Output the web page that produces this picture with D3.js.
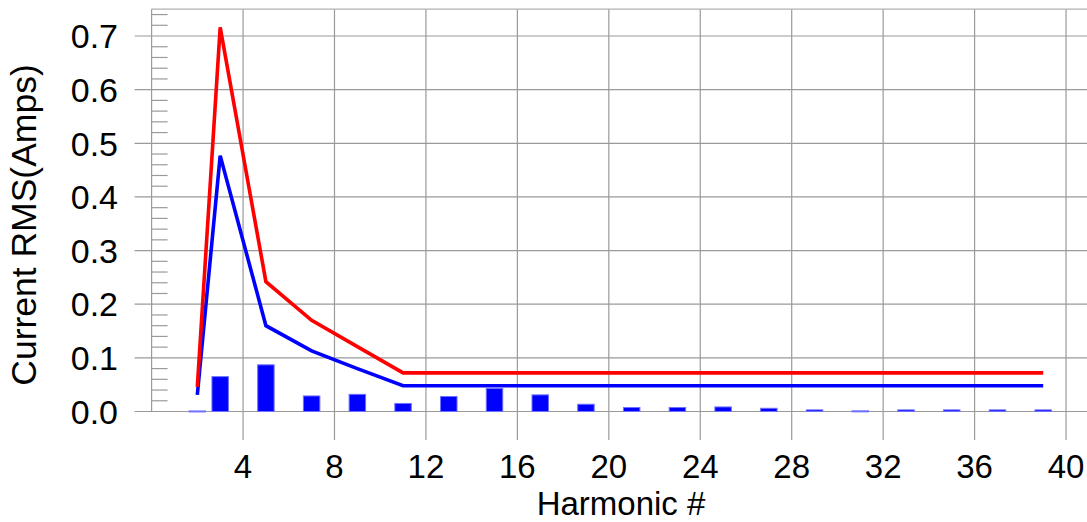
<!DOCTYPE html>
<html>
<head>
<meta charset="utf-8">
<script src="https://cdn.jsdelivr.net/npm/d3@7"></script>
<style>
  body { margin: 0; background: #fff; }
  text { font-family: "Liberation Sans", Arial, sans-serif; fill: #000; }
</style>
</head>
<body>
<div id="container"></div>
<script>
// harmonic numbers shown
const harmonics = [2, 3, 5, 7, 9, 11, 13, 15, 17, 19, 21, 23, 25, 27, 29, 31, 33, 35, 37, 39];
// measured current (bars)
const measured = [0.001, 0.065, 0.087, 0.029, 0.032, 0.015, 0.028, 0.043, 0.031, 0.0135,
  0.0075, 0.0075, 0.0085, 0.006, 0.003, 0.0012, 0.003, 0.003, 0.003, 0.003];
// red limit line
const limitRed = [0.046, 0.716, 0.242, 0.170, 0.121, 0.072, 0.072, 0.072, 0.072, 0.072,
  0.072, 0.072, 0.072, 0.072, 0.072, 0.072, 0.072, 0.072, 0.072, 0.072];
// blue limit line
const limitBlue = [0.031, 0.477, 0.160, 0.113, 0.080, 0.048, 0.048, 0.048, 0.048, 0.048,
  0.048, 0.048, 0.048, 0.048, 0.048, 0.048, 0.048, 0.048, 0.048, 0.048];
const xTicks = [4, 8, 12, 16, 20, 24, 28, 32, 36, 40];
const yTicks = [0, 0.1, 0.2, 0.3, 0.4, 0.5, 0.6, 0.7];

const w = 1087;
const h = 522;

const x = d3.scaleLinear().domain([0, 41]).range([151.6, 1088.9]);
const y = d3.scaleLinear().domain([0, 0.75]).range([411.5, 9.2]);
const plotBottom = 440;

const svg = d3.select("#container")
  .append("svg")
  .attr("width", w)
  .attr("height", h);

const grid = svg.append("g").attr("stroke", "#9a9a9a").attr("stroke-width", 1.2);

// vertical grid lines
grid.selectAll(".vg")
  .data(xTicks)
  .enter()
  .append("line")
  .attr("x1", d => x(d)).attr("x2", d => x(d))
  .attr("y1", y(0.75)).attr("y2", plotBottom);

// horizontal grid lines (with outward major ticks)
grid.selectAll(".hg")
  .data(yTicks)
  .enter()
  .append("line")
  .attr("x1", x(0) - 17).attr("x2", w)
  .attr("y1", d => y(d)).attr("y2", d => y(d));

// top border
grid.append("line")
  .attr("x1", x(0)).attr("x2", w)
  .attr("y1", y(0.75)).attr("y2", y(0.75))
  .attr("stroke", "#b0b0b0");

// left spine
grid.append("line")
  .attr("x1", x(0)).attr("x2", x(0))
  .attr("y1", y(0.75)).attr("y2", y(0));

// minor ticks inside, every 0.02
const minor = d3.range(0, 0.751, 0.02).filter(v => Math.abs(v * 10 - Math.round(v * 10)) > 1e-6);
grid.selectAll(".mt")
  .data(minor)
  .enter()
  .append("line")
  .attr("x1", x(0)).attr("x2", x(0) + 16)
  .attr("y1", d => y(d)).attr("y2", d => y(d));

// bars
const barHalf = 0.36;
svg.append("g")
  .selectAll("rect")
  .data(harmonics)
  .enter()
  .append("rect")
  .attr("x", d => x(d - barHalf))
  .attr("width", x(barHalf * 2) - x(0))
  .attr("y", (d, i) => y(measured[i]))
  .attr("height", (d, i) => Math.max(1, y(0) - y(measured[i])))
  .attr("fill", "#0000ff")
  .attr("stroke", "#7070ff")
  .attr("stroke-width", 1);

const line = d3.line()
  .x(d => x(d[0]))
  .y(d => y(d[1]));

svg.append("path")
  .datum(harmonics.map((d, i) => [d, limitBlue[i]]))
  .attr("d", line)
  .attr("fill", "none")
  .attr("stroke", "#0000ff")
  .attr("stroke-width", 3.6);

svg.append("path")
  .datum(harmonics.map((d, i) => [d, limitRed[i]]))
  .attr("d", line)
  .attr("fill", "none")
  .attr("stroke", "#ff0000")
  .attr("stroke-width", 3.6);

// y tick labels
svg.selectAll(".yl")
  .data(yTicks)
  .enter()
  .append("text")
  .attr("x", 118)
  .attr("y", d => y(d))
  .attr("dy", "0.36em")
  .attr("text-anchor", "end")
  .style("font-size", "34px")
  .text(d3.format(".1f"));

// x tick labels
svg.selectAll(".xl")
  .data(xTicks)
  .enter()
  .append("text")
  .attr("x", d => x(d))
  .attr("y", 478)
  .attr("text-anchor", "middle")
  .style("font-size", "33px")
  .text(d => d);

// axis titles
svg.append("text")
  .attr("x", 621)
  .attr("y", 515)
  .attr("text-anchor", "middle")
  .style("font-size", "33px")
  .text("Harmonic #");

svg.append("text")
  .attr("transform", "translate(36, 225) rotate(-90)")
  .attr("text-anchor", "middle")
  .style("font-size", "35.5px")
  .text("Current RMS(Amps)");
</script>
</body>
</html>
